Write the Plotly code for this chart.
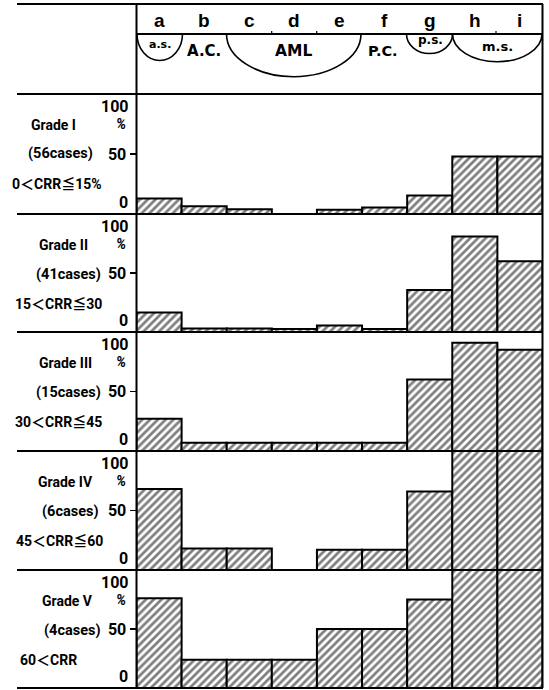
import plotly.graph_objects as go

# ---------------- data ----------------
categories = ["a", "b", "c", "d", "e", "f", "g", "h", "i"]
grade_1 = [13, 6.5, 4, 0, 3.5, 5.5, 15.5, 48, 48]
grade_2 = [16.5, 3, 3, 2.5, 5.5, 2.5, 35.5, 81, 60]
grade_3 = [27, 7, 7, 7, 7, 7, 60, 91, 85]
grade_4 = [68, 18, 18, 0, 17, 17, 66, 100, 100]
grade_5 = [76, 24, 24, 24, 50, 50, 75, 100, 100]
grade_values = [grade_1, grade_2, grade_3, grade_4, grade_5]
grade_names = ["Grade I", "Grade II", "Grade III", "Grade IV", "Grade V"]
case_labels = ["(56cases)", "(41cases)", "(15cases)", "(6cases)", "(4cases)"]
crr_labels = ["0＜CRR≦15%", "15＜CRR≦30", "30＜CRR≦45", "45＜CRR≦60", "60＜CRR"]
group_labels = ["a.s.", "A.C.", "AML", "P.C.", "p.s.", "m.s."]
y_tick_value = 50
y_tick_text = "50"

# ---------------- layout helpers ----------------
W, H = 549, 690
def px(x):
    return x / W
def py(y):
    return 1 - y / H

NARROW = "Roboto, Noto Sans CJK JP, sans-serif"
SANS = "Liberation Sans, Arial, sans-serif"
WIDE = "DejaVu Sans, sans-serif"

panel_tops = [94, 214, 332, 451, 570]
panel_bottoms = [214, 332, 451, 570, 688]
x_left, x_right = 136.5, 542.5

fig = go.Figure()
layout = dict(
    width=W, height=H,
    margin=dict(l=0, r=0, t=0, b=0),
    paper_bgcolor="white", plot_bgcolor="white",
    showlegend=False, bargap=0,
)
annotations = []
shapes = []

for k in range(5):
    n = "" if k == 0 else str(k + 1)
    fig.add_trace(go.Bar(
        x=categories, y=grade_values[k],
        xaxis="x" + n, yaxis="y" + n,
        width=1,
        marker=dict(
            color="white",
            line=dict(color="black", width=2),
            pattern=dict(shape="/", fgcolor="black", bgcolor="white",
                         size=5.5, solidity=0.5, fillmode="overlay"),
        ),
        hoverinfo="skip",
    ))
    layout["xaxis" + n] = dict(
        domain=[px(x_left), px(x_right)], anchor="y" + n,
        range=[-0.5, 8.5], type="category", categoryorder="array",
        categoryarray=categories,
        showticklabels=False, ticks="", showgrid=False, zeroline=False,
        showline=False,
    )
    layout["yaxis" + n] = dict(
        domain=[py(panel_bottoms[k]), py(panel_tops[k])], anchor="x" + n,
        range=[0, 100], showgrid=False, zeroline=False, showline=False,
        tickvals=[y_tick_value], ticktext=[y_tick_text],
        ticks="outside", ticklen=6, tickwidth=1.5, tickcolor="black",
        tickfont=dict(family=NARROW, size=16, color="black", weight="bold"),
    )
    yr = "y" + n
    annotations.append(dict(text="<b>100</b>", xref="paper", yref=yr + " domain",
                            x=px(130), y=1, xanchor="right", yanchor="middle",
                            yshift=-12, showarrow=False, borderpad=0,
                            font=dict(family=NARROW, size=16, color="black")))
    annotations.append(dict(text="<b><i>%</i></b>", xref="paper", yref=yr + " domain",
                            x=px(121), y=1, xanchor="center", yanchor="middle",
                            yshift=-30, showarrow=False, borderpad=0,
                            font=dict(family=NARROW, size=14, color="black")))
    annotations.append(dict(text="<b>0</b>", xref="paper", yref=yr,
                            x=px(130), y=0, xanchor="right", yanchor="middle",
                            yshift=12, showarrow=False,
                            font=dict(family=NARROW, size=16, color="black")))
    top = panel_tops[k]
    grade_cx = [53, 63, 65, 65, 67][k]
    case_cx = [60, 68, 68, 70, 72][k]
    crr_cx = [57, 58, 58, 59, 48][k]
    annotations.append(dict(text="<b>" + grade_names[k] + "</b>", xref="paper", yref="paper",
                            x=px(grade_cx), y=py(top + 31), xanchor="center", yanchor="middle",
                            showarrow=False, font=dict(family=NARROW, size=14, color="black")))
    annotations.append(dict(text="<b>" + case_labels[k] + "</b>", xref="paper", yref="paper",
                            x=px(case_cx), y=py(top + 60), xanchor="center", yanchor="middle",
                            showarrow=False, font=dict(family=NARROW, size=14.5, color="black")))
    annotations.append(dict(text="<b>" + crr_labels[k] + "</b>", xref="paper", yref="paper",
                            x=px(crr_cx), y=py(top + 90), xanchor="center", yanchor="middle",
                            showarrow=False, font=dict(family=NARROW, size=14, color="black")))

# column letters in the header, placed on the category scale
for c in categories:
    annotations.append(dict(text="<b>" + c + "</b>", xref="x", yref="paper",
                            x=c, y=py(20), xanchor="center", yanchor="middle",
                            showarrow=False, font=dict(family=SANS, size=19, color="black")))

# group labels under the letters
group_pos = [(159.5, 44, 11), (204, 51.5, 15), (293, 51.5, 15.5),
             (382.5, 51.5, 14.5), (430.5, 40.5, 12), (497.5, 46.5, 13)]
for lab, (gx, gy, fs) in zip(group_labels, group_pos):
    annotations.append(dict(text="<b>" + lab + "</b>", xref="paper", yref="paper",
                            x=px(gx), y=py(gy), xanchor="center", yanchor="middle",
                            showarrow=False, font=dict(family=WIDE, size=fs, color="black")))

line = dict(color="black", width=2)
for yy in [4] + panel_tops + [688]:
    shapes.append(dict(type="line", xref="paper", yref="paper",
                       x0=px(17), x1=px(543), y0=py(yy), y1=py(yy), line=line, layer="above"))
shapes.append(dict(type="line", xref="paper", yref="paper",
                   x0=px(x_left), x1=px(543), y0=py(34), y1=py(34), line=line, layer="above"))
for xx in [x_left, 542.5]:
    shapes.append(dict(type="line", xref="paper", yref="paper",
                       x0=px(xx), x1=px(xx), y0=py(4), y1=py(688), line=line, layer="above"))
for xx in [271.7, 316.7, 496]:
    shapes.append(dict(type="line", xref="paper", yref="paper",
                       x0=px(xx), x1=px(xx), y0=py(31), y1=py(34),
                       line=dict(color="black", width=1.2), layer="above"))

def arc(x0, x1, ytop, ybot):
    k = 0.5523
    cx = (x0 + x1) / 2
    rx = (x1 - x0) / 2
    d = ybot - ytop
    pts = [
        (x0, ytop),
        (x0, ytop + k * d), (cx - k * rx, ybot), (cx, ybot),
        (cx + k * rx, ybot), (x1, ytop + k * d), (x1, ytop),
    ]
    p = [(px(a), py(b)) for a, b in pts]
    return ("M {:.5f},{:.5f} C {:.5f},{:.5f} {:.5f},{:.5f} {:.5f},{:.5f} "
            "C {:.5f},{:.5f} {:.5f},{:.5f} {:.5f},{:.5f}").format(*[v for q in p for v in q])

for (a0, a1, b) in [(137, 182.5, 60.5), (226.5, 361, 76.7), (406.5, 452.5, 53.5), (452.5, 542, 61.7)]:
    shapes.append(dict(type="path", xref="paper", yref="paper", path=arc(a0, a1, 34, b),
                       line=dict(color="black", width=1.6), layer="above"))

layout["annotations"] = annotations
layout["shapes"] = shapes
fig.update_layout(**layout)
fig.write_html(
    "out.html",
    config={"displayModeBar": False, "staticPlot": True},
    post_script="document.body.style.margin='0';document.body.style.overflow='hidden';",
)
